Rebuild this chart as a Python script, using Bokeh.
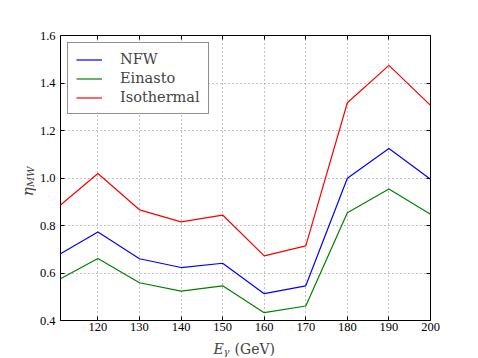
import math
from bokeh.plotting import figure
from bokeh.layouts import column, row
from bokeh.models import Range1d, LinearAxis, FixedTicker, Legend, LegendItem, Label
from bokeh.embed import file_html
from bokeh.resources import INLINE

energy = [111, 120, 130, 140, 150, 160, 170, 180, 190, 200]
nfw = [0.681, 0.773, 0.660, 0.623, 0.641, 0.513, 0.546, 0.999, 1.124, 0.995]
einasto = [0.576, 0.661, 0.559, 0.524, 0.546, 0.433, 0.461, 0.854, 0.954, 0.847]
isothermal = [0.886, 1.019, 0.866, 0.815, 0.844, 0.672, 0.714, 1.317, 1.474, 1.306]
x_ticks = [120, 130, 140, 150, 160, 170, 180, 190, 200]
y_ticks = [0.4, 0.6, 0.8, 1.0, 1.2, 1.4, 1.6]

FONT = "DejaVu Serif"
TFONT = "Liberation Serif"

MAIN_H = 335
YL_W = 36
XL_H = 22
TOTAL_W = 470

p = figure(width=TOTAL_W - YL_W, height=MAIN_H, output_backend="svg", toolbar_location=None,
           x_range=Range1d(111, 200), y_range=Range1d(0.4, 1.6),
           min_border_left=24, min_border_top=35, min_border_right=40, min_border_bottom=15)
p.outline_line_color = "black"
p.outline_line_width = 1
p.background_fill_color = "white"
p.border_fill_color = "white"

r1 = p.line(energy, nfw, line_color="#0000ff", line_width=1.2)
r2 = p.line(energy, einasto, line_color="#008000", line_width=1.2)
r3 = p.line(energy, isothermal, line_color="#ff0000", line_width=1.2)

for ax in [p.xaxis[0], p.yaxis[0]]:
    ax.major_tick_in = 4
    ax.major_tick_out = 0
    ax.minor_tick_line_color = None
    ax.axis_line_color = None
    ax.major_label_text_font = TFONT
    ax.major_label_text_font_size = "12.5px"
    ax.major_label_text_color = "black"
    ax.major_tick_line_color = "black"
p.xaxis[0].ticker = FixedTicker(ticks=x_ticks)
p.yaxis[0].ticker = FixedTicker(ticks=y_ticks)
p.xaxis[0].major_label_standoff = 2
p.yaxis[0].major_label_standoff = 5
p.xaxis[0].major_label_overrides = {t: str(t) for t in x_ticks}
p.yaxis[0].major_label_overrides = {t: f"{t:.1f}" for t in y_ticks}

top = LinearAxis(ticker=FixedTicker(ticks=x_ticks),
                 major_label_overrides={t: "" for t in x_ticks},
                 major_tick_in=4, major_tick_out=0, minor_tick_line_color=None,
                 axis_line_color=None, major_label_standoff=0)
right = LinearAxis(ticker=FixedTicker(ticks=y_ticks),
                   major_label_overrides={t: "" for t in y_ticks},
                   major_tick_in=4, major_tick_out=0, minor_tick_line_color=None,
                   axis_line_color=None, major_label_standoff=0)
p.add_layout(top, "above")
p.add_layout(right, "right")

p.xgrid.ticker = FixedTicker(ticks=x_ticks)
p.ygrid.ticker = FixedTicker(ticks=y_ticks)
for g in [p.xgrid[0], p.ygrid[0]]:
    g.grid_line_color = "#888888"
    g.grid_line_dash = "1 3"
    g.grid_line_width = 1

legend = Legend(items=[LegendItem(label="NFW", renderers=[r1]),
                       LegendItem(label="Einasto", renderers=[r2]),
                       LegendItem(label="Isothermal", renderers=[r3])],
                location="top_left")
legend.label_text_font = FONT
legend.label_text_font_size = "14.5px"
legend.border_line_color = "#222222"
legend.border_line_width = 1.5
legend.margin = 7
legend.padding = 8
legend.spacing = 3
legend.glyph_width = 26
legend.glyph_height = 15
legend.label_height = 15
legend.label_standoff = 18
p.add_layout(legend)


def text_panel(w, h):
    f = figure(width=w, height=h, output_backend="svg", toolbar_location=None,
               x_range=Range1d(0, w), y_range=Range1d(0, h),
               x_axis_type=None, y_axis_type=None, min_border=0)
    f.outline_line_color = None
    f.grid.visible = False
    f.background_fill_color = "white"
    f.border_fill_color = "white"
    return f


# y axis label: eta_MW (rotated)
yl = text_panel(YL_W, MAIN_H)
yl.add_layout(Label(x=27, y=MAIN_H - 189, text="η", angle=math.pi / 2,
                    text_font=FONT, text_font_style="italic", text_font_size="15px",
                    text_baseline="alphabetic"))
yl.add_layout(Label(x=30, y=MAIN_H - 178, text="MW", angle=math.pi / 2,
                    text_font=FONT, text_font_style="italic", text_font_size="10px",
                    text_baseline="alphabetic"))

# x axis label: E_gamma (GeV)
xl = text_panel(TOTAL_W, XL_H)
xl.add_layout(Label(x=213, y=9, text="E",
                    text_font=FONT, text_font_style="italic", text_font_size="14px",
                    text_baseline="alphabetic"))
xl.add_layout(Label(x=223, y=6, text="γ",
                    text_font=FONT, text_font_style="italic", text_font_size="10px",
                    text_baseline="alphabetic"))
xl.add_layout(Label(x=234, y=9, text="(GeV)",
                    text_font=FONT, text_font_size="14px", text_baseline="alphabetic"))

layout = column(row(yl, p, spacing=0), xl, spacing=0)
open("out.html", "w").write(file_html(layout, INLINE))
